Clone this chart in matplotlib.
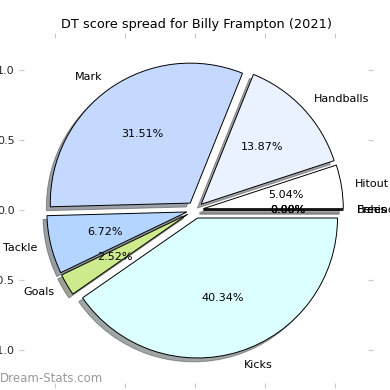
import matplotlib
matplotlib.use("Agg")
import matplotlib.pyplot as plt

labels = ["Hitout", "Handballs", "Mark", "Tackle", "Goals", "Kicks",
          "Behinds", "Frees For", "Frees Against"]
values = [5.04, 13.87, 31.51, 6.72, 2.52, 40.34, 0.0, 0.0, 0.0]
colors = ["#ffffff", "#eaf1ff", "#c5d9ff", "#b4d5ff", "#cdea8c", "#dcffff",
          "#ffe0e0", "#fff0c0", "#e0e0e0"]
title = "DT score spread for Billy Frampton (2021)"
watermark = "Dream-Stats.com"

fig = plt.figure(figsize=(3.9, 3.9), dpi=100)
ax = fig.add_axes([0.0615, 0.018, 0.8825, 0.8846])

explode = [0.06] * len(values)
wedges, texts, autotexts = ax.pie(
    values, labels=labels, colors=colors, explode=explode, shadow=True,
    autopct="%1.2f%%", frame=True,
    wedgeprops=dict(edgecolor="black", linewidth=0.7),
    textprops=dict(fontsize=8, color="black"))

ax.set_xlim(-1.221, 1.236)
ax.set_ylim(-1.236, 1.229)
ax.set_aspect("equal")
for s in ax.spines.values():
    s.set_visible(False)
ticks = [-1.0, -0.5, 0.0, 0.5, 1.0]
ax.set_xticks(ticks)
ax.set_yticks(ticks)
ax.tick_params(axis="both", which="both", top=True, right=True,
               color="#c8c8c8", labelsize=8, labelcolor="#262626",
               length=3.5, width=0.8)
ax.set_title(title, fontsize=9.3, pad=7)

fig.text(0.0, 0.013, watermark, fontsize=8.5, color="#999999",
         ha="left", va="bottom")

fig.savefig("out.png", dpi=100)
